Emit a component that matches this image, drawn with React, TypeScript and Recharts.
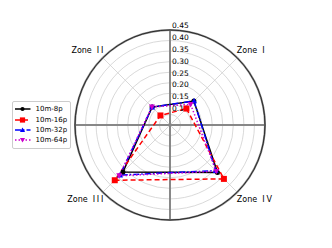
import React from 'react';
import { RadarChart, Radar, PolarGrid, PolarAngleAxis, PolarRadiusAxis, Legend } from 'recharts';

const zones = ['Zone I', 'Zone II', 'Zone III', 'Zone IV'];
const s8p = [0.16, 0.12, 0.315, 0.318];
const s16p = [0.11, 0.064, 0.37, 0.361];
const s32p = [0.161, 0.12, 0.335, 0.306];
const s64p = [0.138, 0.121, 0.34, 0.31];
const radialTicks = [0.05, 0.1, 0.15, 0.2, 0.25, 0.3, 0.35, 0.4, 0.45];
const seriesNames = ['10m-8p', '10m-16p', '10m-32p', '10m-64p'];

// Recharts lays categories clockwise; the reference runs counter-clockwise (I, II, III, IV),
// so the zones are fed in clockwise order starting from Zone I.
const clockwiseOrder = [0, 3, 2, 1];

const data = clockwiseOrder.map((i) => ({
  zone: zones[i],
  '10m-8p': s8p[i],
  '10m-16p': s16p[i],
  '10m-32p': s32p[i],
  '10m-64p': s64p[i],
}));

const CX = 170;
const CY = 125;
const R = 95;
const FONT = 'DejaVu Sans, sans-serif';

type MarkerKind = 'circle' | 'square' | 'tri' | 'tridown';

const styles: Record<string, { color: string; dash?: string; marker: MarkerKind; width: number }> = {
  '10m-8p': { color: '#000000', marker: 'circle', width: 1.5 },
  '10m-16p': { color: '#ff0000', dash: '5 3', marker: 'square', width: 1.5 },
  '10m-32p': { color: '#0000ff', dash: '6 2 1.5 2', marker: 'tri', width: 1.5 },
  '10m-64p': { color: '#cc00cc', dash: '1.5 2', marker: 'tridown', width: 1.5 },
};

const Marker = ({ kind, x, y, color, s = 3 }: { kind: MarkerKind; x: number; y: number; color: string; s?: number }) => {
  if (kind === 'circle') return <circle cx={x} cy={y} r={s - 0.5} fill={color} />;
  if (kind === 'square') return <rect x={x - s} y={y - s} width={2 * s} height={2 * s} fill={color} />;
  if (kind === 'tri')
    return <polygon points={`${x},${y - s} ${x - s},${y + s * 0.8} ${x + s},${y + s * 0.8}`} fill={color} />;
  return <polygon points={`${x},${y + s} ${x - s},${y - s * 0.8} ${x + s},${y - s * 0.8}`} fill={color} />;
};

const makeDot = (name: string) => (props: any) => {
  const st = styles[name];
  return <Marker key={`${name}-${props.index}`} kind={st.marker} x={props.cx} y={props.cy} color={st.color} />;
};

const ZoneTick = (props: any) => {
  const { x, y, payload, textAnchor } = props;
  const parts = String(payload.value).split(' ');
  const right = textAnchor === 'start';
  return (
    <text
      x={x + (right ? -6 : 8)}
      y={y + (y < CY ? -2 : 1.5)}
      textAnchor={right ? 'start' : 'end'}
      dominantBaseline="central"
      fontSize={8}
      fontFamily={FONT}
      fill="#000"
    >
      {parts[0] + ' '}
      <tspan dx={2.5} letterSpacing={1.8}>{parts[1]}</tspan>
    </text>
  );
};

const RadiusTick = (props: any) => {
  const { x, y, payload, index } = props;
  if (index === 0) return <g />;
  const dy = 5 - (index - 1) * 1.4;
  return (
    <text x={x + 2} y={y + dy} textAnchor="start" dominantBaseline="central" fontSize={7.5} fontFamily={FONT} fill="#000">
      {Number(payload.value).toFixed(2)}
    </text>
  );
};

const LegendBox = () => (
  <div
    style={{
      border: '1px solid #cccccc',
      borderRadius: 2,
      background: '#fff',
      width: 59,
      padding: '2px 0 2px 0',
      boxSizing: 'border-box',
      whiteSpace: 'nowrap',
    }}
  >
    {seriesNames.map((n) => {
      const st = styles[n];
      return (
        <div key={n} style={{ display: 'flex', alignItems: 'center', height: 10.4 }}>
          <svg width={21} height={10} style={{ display: 'block', flex: 'none' }}>
            <line x1={2} x2={17.5} y1={5} y2={5} stroke={st.color} strokeWidth={1.5} strokeDasharray={st.dash} />
            <Marker kind={st.marker} x={9.5} y={5} color={st.color} s={2.6} />
          </svg>
          <span style={{ fontFamily: FONT, fontSize: 7, marginLeft: 1.5, color: '#000', lineHeight: '10px', whiteSpace: 'nowrap' }}>{n}</span>
        </div>
      );
    })}
  </div>
);

export default function App() {
  return (
    <div style={{ position: 'absolute', left: 0, top: 0, width: 332, height: 248, background: '#fff' }}>
      <RadarChart
        width={332}
        height={248}
        data={data}
        cx={CX}
        cy={CY}
        outerRadius={R}
        startAngle={45}
        endAngle={-315}
        margin={{ top: 0, right: 0, bottom: 0, left: 0 }}
      >
        <PolarGrid gridType="circle" stroke="#cfcfcf" strokeWidth={0.8} />
        <PolarGrid gridType="circle" polarAngles={[0, 90, 180, 270]} polarRadius={[R]} stroke="#888888" strokeWidth={2} />
        <PolarGrid gridType="circle" radialLines={false} polarRadius={[R]} stroke="#111111" strokeWidth={0.8} />
        <PolarAngleAxis dataKey="zone" tick={<ZoneTick />} tickLine={false} axisLine={false} />
        <PolarRadiusAxis
          angle={90}
          domain={[0, 0.45]}
          ticks={radialTicks}
          tick={<RadiusTick />}
          axisLine={false}
          tickLine={false}
          type="number"
        />
        {seriesNames.map((n) => (
          <Radar
            key={n}
            name={n}
            dataKey={n}
            stroke={styles[n].color}
            strokeWidth={styles[n].width}
            strokeDasharray={styles[n].dash}
            fill="none"
            fillOpacity={0}
            dot={makeDot(n)}
            isAnimationActive={false}
          />
        ))}
        <Legend
          layout="vertical"
          content={<LegendBox />}
          wrapperStyle={{ position: 'absolute', left: 12, top: 101, width: 59 }}
        />
      </RadarChart>
    </div>
  );
}
